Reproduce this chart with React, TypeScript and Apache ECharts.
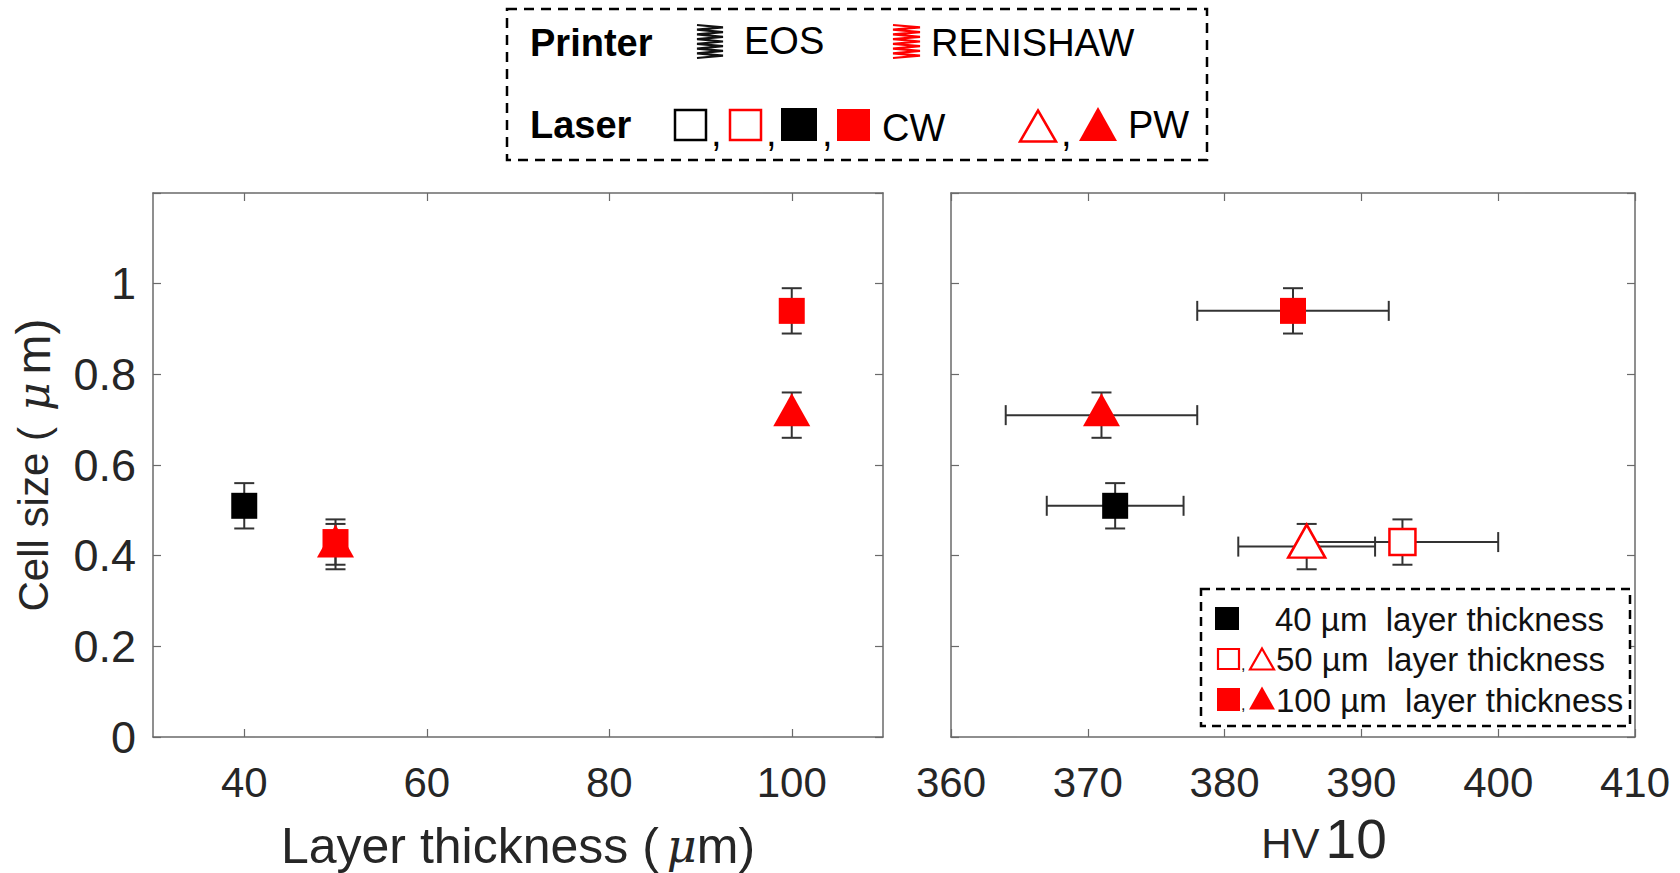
import React, { useEffect, useRef } from 'react';
import * as echarts from 'echarts';

// ---- data ----
const groupNames = ['EOS CW 40 µm', 'RENISHAW CW 50 µm', 'RENISHAW PW 50 µm', 'RENISHAW CW 100 µm', 'RENISHAW PW 100 µm'];
const layerThickness = [40, 50, 50, 100, 100];
const cellSize = [0.51, 0.43, 0.42, 0.94, 0.71];
const cellSizeErr = [0.05, 0.05, 0.05, 0.05, 0.05];
const hv10 = [372, 393, 386, 385, 371];
const hv10Err = [5, 7, 5, 7, 7];

const layerTicks = [40, 60, 80, 100];
const hvTicks = [360, 370, 380, 390, 400, 410];
const cellTicks = [0, 0.2, 0.4, 0.6, 0.8, 1];

const legendRows = ['40 µm  layer thickness', '50 µm  layer thickness', '100 µm  layer thickness'];

// ---- styles ----
const RED = '#ff0000';
const BLACK = '#000000';
const ERR = '#333333';
const FRAME = '#6a6a6a';
const TXT = '#262626';
const FONT = '"Liberation Sans", Arial, sans-serif';

type MarkerKind = 'sqBlack' | 'sqRed' | 'triRed' | 'sqRedOpen' | 'triRedOpen';
const leftMarkers: MarkerKind[] = ['sqBlack', 'sqRed', 'triRed', 'sqRed', 'triRed'];
const rightMarkers: MarkerKind[] = ['sqBlack', 'sqRedOpen', 'triRedOpen', 'sqRed', 'triRed'];

function markerStyle(kind: MarkerKind) {
  const isTri = kind.startsWith('tri');
  const open = kind.endsWith('Open');
  const color = kind === 'sqBlack' ? BLACK : RED;
  return {
    symbol: isTri ? 'triangle' : 'rect',
    symbolSize: isTri ? [37, 33] : [26, 26],
    symbolOffset: isTri ? [0, -5.5] : [0, 0],
    itemStyle: open
      ? { color: '#ffffff', borderColor: color, borderWidth: 2.5, opacity: 1 }
      : { color, borderWidth: 0, opacity: 1 },
  };
}

function renderErr(params: any, api: any) {
  const x = api.value(0);
  const y = api.value(1);
  const xe = api.value(2);
  const ye = api.value(3);
  const c = api.coord([x, y]);
  const style = { stroke: ERR, lineWidth: 2, fill: null };
  const cap = 10;
  const children: any[] = [];
  if (ye > 0) {
    const t = api.coord([x, y + ye]);
    const b = api.coord([x, y - ye]);
    children.push({ type: 'line', shape: { x1: c[0], y1: t[1], x2: c[0], y2: b[1] }, style });
    children.push({ type: 'line', shape: { x1: c[0] - cap, y1: t[1], x2: c[0] + cap, y2: t[1] }, style });
    children.push({ type: 'line', shape: { x1: c[0] - cap, y1: b[1], x2: c[0] + cap, y2: b[1] }, style });
  }
  if (xe > 0) {
    const l = api.coord([x - xe, y]);
    const r = api.coord([x + xe, y]);
    children.push({ type: 'line', shape: { x1: l[0], y1: c[1], x2: r[0], y2: c[1] }, style });
    children.push({ type: 'line', shape: { x1: l[0], y1: c[1] - cap, x2: l[0], y2: c[1] + cap }, style });
    children.push({ type: 'line', shape: { x1: r[0], y1: c[1] - cap, x2: r[0], y2: c[1] + cap }, style });
  }
  return { type: 'group', children };
}

function zigzag(x0: number, y0: number, w: number, h: number, n: number) {
  const pts: number[][] = [];
  for (let i = 0; i <= n; i++) {
    pts.push([i % 2 === 0 ? x0 : x0 + w, y0 + (h * i) / n]);
  }
  return pts;
}

function triPts(cx: number, cy: number, w: number, h: number) {
  return [
    [cx, cy - h / 2],
    [cx + w / 2, cy + h / 2],
    [cx - w / 2, cy + h / 2],
  ];
}

function buildOption() {
  const tickLabel = { color: TXT, fontFamily: FONT, fontSize: 42 };
  const frameLine = { show: true, onZero: false, lineStyle: { color: FRAME, width: 1.5 } };
  const tick = { show: true, inside: true, length: 8, lineStyle: { color: FRAME, width: 1.2 } };

  const yCell = (gridIndex: number, position: 'left' | 'right', labels: boolean) => ({
    type: 'value',
    gridIndex,
    position,
    min: 0,
    max: 1.2,
    interval: 0.2,
    axisLine: frameLine,
    axisTick: tick,
    splitLine: { show: false },
    axisLabel: labels
      ? {
          ...tickLabel,
          fontSize: 45,
          margin: 17,
          formatter: (v: number) => (cellTicks.some((t) => Math.abs(t - v) < 1e-6) ? String(Math.round(v * 10) / 10) : ''),
        }
      : { show: false },
  });

  const leftSeries: any[] = [];
  const rightSeries: any[] = [];
  groupNames.forEach((name, i) => {
    leftSeries.push({
      type: 'scatter',
      name: name + ' (layer)',
      xAxisIndex: 0,
      yAxisIndex: 0,
      z: 3,
      data: [[layerThickness[i], cellSize[i]]],
      ...markerStyle(leftMarkers[i]),
    });
    rightSeries.push({
      type: 'scatter',
      name: name + ' (HV10)',
      xAxisIndex: 2,
      yAxisIndex: 2,
      z: 3,
      data: [[hv10[i], cellSize[i]]],
      ...markerStyle(rightMarkers[i]),
    });
  });

  const errLeft = {
    type: 'custom',
    name: 'err-left',
    xAxisIndex: 0,
    yAxisIndex: 0,
    z: 2,
    renderItem: renderErr,
    encode: { x: 0, y: 1 },
    data: layerThickness.map((x, i) => [x, cellSize[i], 0, cellSizeErr[i]]),
  };
  const errRight = {
    type: 'custom',
    name: 'err-right',
    xAxisIndex: 2,
    yAxisIndex: 2,
    z: 2,
    renderItem: renderErr,
    encode: { x: 0, y: 1 },
    data: hv10.map((x, i) => [x, cellSize[i], hv10Err[i], cellSizeErr[i]]),
  };

  const legendText = { fontFamily: FONT, fontSize: 38, fill: '#000' };
  const rowText = { fontFamily: FONT, fontSize: 33, fill: '#111' };

  const graphic: any[] = [
    // top legend
    {
      type: 'rect',
      shape: { x: 507, y: 9, width: 700, height: 151 },
      style: { fill: '#fff', stroke: '#000', lineWidth: 2.5, lineDash: [10, 7] },
      z: 10,
    },
    { type: 'text', x: 530, y: 43, z: 11, style: { ...legendText, text: 'Printer', fontWeight: 'bold', verticalAlign: 'middle' } },
    { type: 'polyline', z: 11, shape: { points: zigzag(697, 25, 26, 33, 14) }, style: { stroke: '#111', lineWidth: 2.2, fill: null } },
    { type: 'text', x: 744, y: 41, z: 11, style: { ...legendText, text: 'EOS', verticalAlign: 'middle' } },
    { type: 'polyline', z: 11, shape: { points: zigzag(893, 25, 27, 33, 14) }, style: { stroke: RED, lineWidth: 2.2, fill: null } },
    { type: 'text', x: 931, y: 43, z: 11, style: { ...legendText, text: 'RENISHAW', verticalAlign: 'middle' } },
    { type: 'text', x: 530, y: 125, z: 11, style: { ...legendText, text: 'Laser', fontWeight: 'bold', verticalAlign: 'middle' } },
    { type: 'rect', z: 11, shape: { x: 675, y: 110, width: 31, height: 30 }, style: { fill: '#fff', stroke: '#000', lineWidth: 2.5 } },
    { type: 'text', x: 711, y: 133, z: 11, style: { ...legendText, text: ',', verticalAlign: 'middle' } },
    { type: 'rect', z: 11, shape: { x: 730, y: 110, width: 31, height: 30 }, style: { fill: '#fff', stroke: RED, lineWidth: 2.5 } },
    { type: 'text', x: 766, y: 133, z: 11, style: { ...legendText, text: ',', verticalAlign: 'middle' } },
    { type: 'rect', z: 11, shape: { x: 781, y: 108, width: 36, height: 33 }, style: { fill: '#000' } },
    { type: 'text', x: 822, y: 133, z: 11, style: { ...legendText, text: ',', verticalAlign: 'middle' } },
    { type: 'rect', z: 11, shape: { x: 837, y: 109, width: 33, height: 32 }, style: { fill: RED } },
    { type: 'text', x: 882, y: 128, z: 11, style: { ...legendText, text: 'CW', verticalAlign: 'middle' } },
    { type: 'polygon', z: 11, shape: { points: triPts(1038, 126, 36, 31) }, style: { fill: '#fff', stroke: RED, lineWidth: 2.5 } },
    { type: 'text', x: 1061, y: 133, z: 11, style: { ...legendText, text: ',', verticalAlign: 'middle' } },
    { type: 'polygon', z: 11, shape: { points: triPts(1098, 124, 38, 34) }, style: { fill: RED } },
    { type: 'text', x: 1128, y: 125, z: 11, style: { ...legendText, text: 'PW', verticalAlign: 'middle' } },

    // right legend
    {
      type: 'rect',
      shape: { x: 1201, y: 589, width: 429, height: 137 },
      style: { fill: '#fff', stroke: '#000', lineWidth: 2.5, lineDash: [9, 6] },
      z: 10,
    },
    { type: 'rect', z: 11, shape: { x: 1215, y: 607, width: 24, height: 23 }, style: { fill: '#000' } },
    { type: 'text', x: 1275, y: 619, z: 11, style: { ...rowText, text: legendRows[0], verticalAlign: 'middle' } },
    { type: 'rect', z: 11, shape: { x: 1218, y: 649, width: 21, height: 20 }, style: { fill: '#fff', stroke: RED, lineWidth: 2.2 } },
    { type: 'text', x: 1241, y: 664, z: 11, style: { fontFamily: FONT, fontSize: 16, fill: '#111', text: ',', verticalAlign: 'middle' } },
    { type: 'polygon', z: 11, shape: { points: triPts(1262, 659, 24, 21) }, style: { fill: '#fff', stroke: RED, lineWidth: 2.2 } },
    { type: 'text', x: 1276, y: 659, z: 11, style: { ...rowText, text: legendRows[1], verticalAlign: 'middle' } },
    { type: 'rect', z: 11, shape: { x: 1217, y: 688, width: 23, height: 23 }, style: { fill: RED } },
    { type: 'text', x: 1241, y: 704, z: 11, style: { fontFamily: FONT, fontSize: 16, fill: '#111', text: ',', verticalAlign: 'middle' } },
    { type: 'polygon', z: 11, shape: { points: triPts(1262, 698, 26, 23) }, style: { fill: RED } },
    { type: 'text', x: 1276, y: 700, z: 11, style: { ...rowText, text: legendRows[2], verticalAlign: 'middle' } },
  ];

  return {
    animation: false,
    backgroundColor: '#ffffff',
    textStyle: { fontFamily: FONT },
    grid: [
      { left: 153, right: 1680 - 883, top: 193, bottom: 873 - 737, containLabel: false, outerBoundsMode: 'none' },
      { left: 951, right: 1680 - 1635, top: 193, bottom: 873 - 737, containLabel: false, outerBoundsMode: 'none' },
    ],
    xAxis: [
      {
        type: 'value',
        gridIndex: 0,
        position: 'bottom',
        min: 30,
        max: 110,
        axisLine: frameLine,
        axisTick: { ...tick, customValues: layerTicks },
        splitLine: { show: false },
        axisLabel: { ...tickLabel, margin: 24, customValues: layerTicks },
        name: 'Layer thickness ({mu|μ}{m|m)}',
        nameLocation: 'middle',
        nameGap: 84,
        nameTextStyle: {
          color: TXT,
          fontFamily: FONT,
          fontSize: 50,
          rich: {
            mu: { fontFamily: '"DejaVu Serif", serif', fontStyle: 'italic', fontSize: 46, color: TXT, padding: [0, 0, 0, 8] },
            m: { fontFamily: FONT, fontSize: 50, color: TXT },
          },
        },
      },
      {
        type: 'value',
        gridIndex: 0,
        position: 'top',
        min: 30,
        max: 110,
        axisLine: frameLine,
        axisTick: { ...tick, customValues: layerTicks },
        splitLine: { show: false },
        axisLabel: { show: false },
      },
      {
        type: 'value',
        gridIndex: 1,
        position: 'bottom',
        min: 360,
        max: 410,
        interval: 10,
        axisLine: frameLine,
        axisTick: tick,
        splitLine: { show: false },
        axisLabel: { ...tickLabel, margin: 24, showMinLabel: true, showMaxLabel: true },
        name: '{hv|HV}{ten|10}',
        nameLocation: 'middle',
        nameGap: 74,
        nameTextStyle: {
          color: TXT,
          fontFamily: FONT,
          padding: [0, 0, 0, 62],
          rich: {
            hv: { fontFamily: FONT, fontSize: 42, color: TXT, verticalAlign: 'bottom', padding: [0, 6, 2, 0] },
            ten: { fontFamily: FONT, fontSize: 55, color: TXT, verticalAlign: 'bottom' },
          },
        },
      },
      {
        type: 'value',
        gridIndex: 1,
        position: 'top',
        min: 360,
        max: 410,
        interval: 10,
        axisLine: frameLine,
        axisTick: tick,
        splitLine: { show: false },
        axisLabel: { show: false },
      },
    ],
    yAxis: [
      {
        ...yCell(0, 'left', true),
        name: 'Cell size ({mu|μ}{m|m)}',
        nameLocation: 'middle',
        nameRotate: 90,
        nameGap: 96,
        nameTextStyle: {
          color: TXT,
          fontFamily: FONT,
          fontSize: 42,
          rich: {
            mu: { fontFamily: '"DejaVu Serif", serif', fontStyle: 'italic', fontSize: 44, color: TXT, padding: [0, 8, 0, 16] },
            m: { fontFamily: FONT, fontSize: 48, color: TXT },
          },
        },
      },
      yCell(0, 'right', false),
      yCell(1, 'left', false),
      yCell(1, 'right', false),
    ],
    series: [errLeft, errRight, ...leftSeries, ...rightSeries],
    graphic,
  };
}

export default function App() {
  const ref = useRef<HTMLDivElement>(null);
  useEffect(() => {
    if (!ref.current) return;
    const chart = echarts.init(ref.current, undefined, { renderer: 'svg' });
    chart.setOption(buildOption() as any);
    return () => chart.dispose();
  }, []);
  return (
    <div
      ref={ref}
      style={{ position: 'fixed', left: 0, top: 0, width: 1680, height: 873, background: '#fff' }}
    />
  );
}
